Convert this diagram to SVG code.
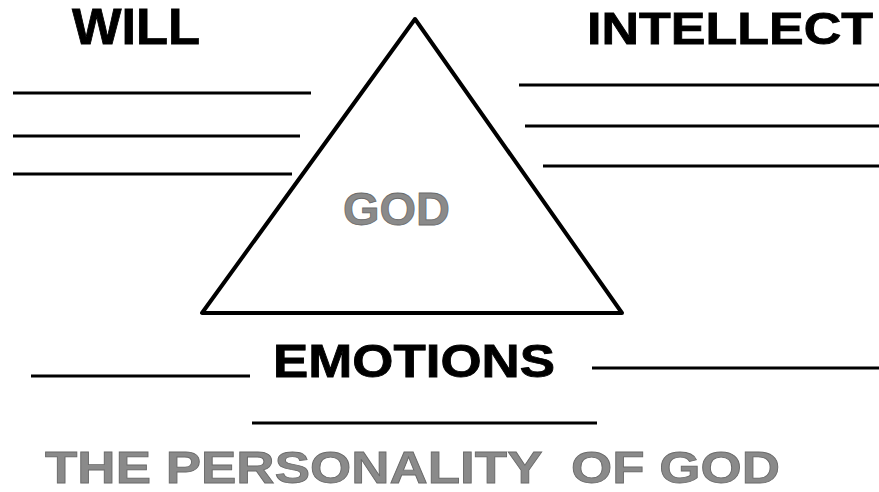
<svg xmlns="http://www.w3.org/2000/svg" width="879" height="492" viewBox="0 0 879 492">
<style>
.ln{stroke:#000;stroke-width:3;fill:none}
.lbl{font-family:"Liberation Sans",Arial,sans-serif;font-weight:bold;fill:#000;stroke:#000;stroke-width:0.8}
.gray{font-family:"Liberation Sans",Arial,sans-serif;font-weight:bold;fill:#8a8a8a;stroke:#6a6a6a;stroke-width:0.8}
</style>
<rect width="879" height="492" fill="#fff"/>
<g id="triangle">
<polygon points="415,19 202,313 622,313" fill="#fff" stroke="#000" stroke-width="4" stroke-linejoin="round"/>
<text class="gray" x="343" y="225" font-size="46" textLength="107" lengthAdjust="spacingAndGlyphs">GOD</text>
</g>
<g id="will">
<text class="lbl" x="72" y="44" font-size="50" textLength="128" lengthAdjust="spacingAndGlyphs">WILL</text>
<line class="ln" x1="13" y1="93" x2="311" y2="93"/>
<line class="ln" x1="13" y1="136" x2="300" y2="136"/>
<line class="ln" x1="13" y1="174" x2="292" y2="174"/>
</g>
<g id="intellect">
<text class="lbl" x="587" y="44" font-size="45" textLength="286" lengthAdjust="spacingAndGlyphs">INTELLECT</text>
<line class="ln" x1="519" y1="85" x2="879" y2="85"/>
<line class="ln" x1="525" y1="126" x2="879" y2="126"/>
<line class="ln" x1="543" y1="166" x2="879" y2="166"/>
</g>
<g id="emotions">
<text class="lbl" x="273" y="377" font-size="46" textLength="282" lengthAdjust="spacingAndGlyphs">EMOTIONS</text>
<line class="ln" x1="31" y1="376" x2="250" y2="376"/>
<line class="ln" x1="592" y1="368" x2="879" y2="368"/>
<line class="ln" x1="252" y1="423" x2="597" y2="423"/>
</g>
<g id="title">
<text class="gray" x="45" y="483" font-size="44" textLength="735" lengthAdjust="spacingAndGlyphs" xml:space="preserve">THE PERSONALITY  OF GOD</text>
</g>
</svg>
